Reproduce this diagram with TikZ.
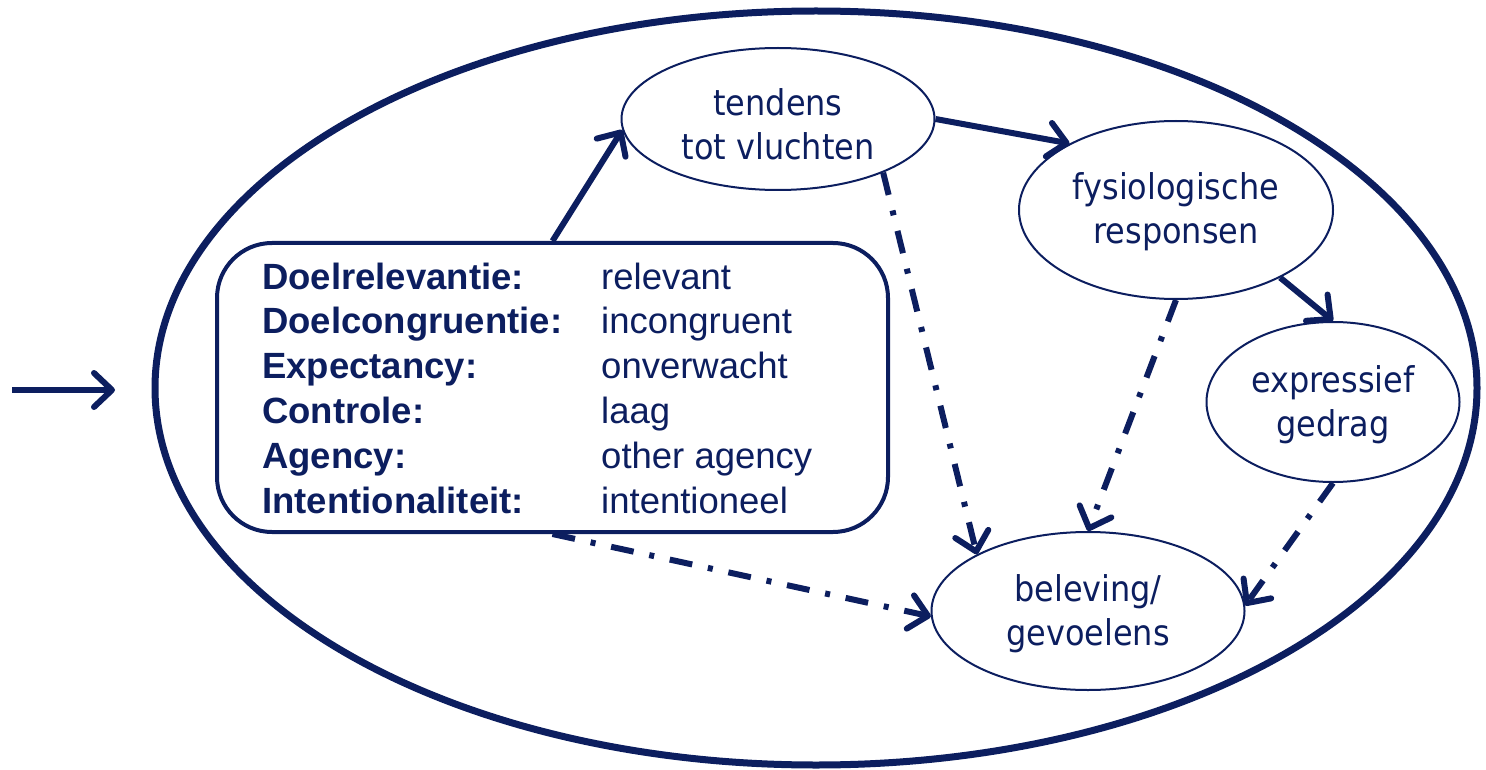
\documentclass[tikz,border=0pt]{standalone}
\usepackage{fontspec}
\setmainfont{Liberation Sans}
\newfontfamily\ellfont{DejaVu Sans Condensed}
\usetikzlibrary{shapes.geometric,arrows.meta}
\definecolor{navy}{RGB}{12,30,95}
\begin{document}
\begin{tikzpicture}[x=1pt,y=-1pt,
  ell/.style={draw=navy,line width=2pt,ellipse,inner sep=0pt},
  etext/.style={align=center,text=navy,inner sep=0pt,
    font=\ellfont\fontsize{35.5}{44}\selectfont},
  arr/.style={draw=navy,line width=6pt,-{Straight Barb[length=18pt,width=34pt,round]}},
  dd/.style={arr,dash pattern=on 23pt off 16pt on 5pt off 16pt},
  lab/.style={anchor=base west,inner sep=0pt,text=navy,font=\fontsize{36.5}{40}\selectfont\bfseries},
  val/.style={anchor=base west,inner sep=0pt,text=navy,font=\fontsize{36.5}{40}\selectfont}]
\useasboundingbox (0,0) rectangle (1486,770);
\node[ellipse,draw=navy,line width=7pt,minimum width=1322pt,minimum height=754pt,inner sep=0pt] (outer) at (816,388) {};
\node[ell,minimum width=313pt,minimum height=142pt] (tendens) at (778,119) {};
\node[ell,minimum width=314pt,minimum height=178pt] (fysio) at (1176,210) {};
\node[ell,minimum width=253pt,minimum height=160pt] (expr) at (1333,402) {};
\node[ell,minimum width=313pt,minimum height=158pt] (bel) at (1088,611) {};
\node[etext] (tendensT) at ([yshift=-5pt]tendens.center) {tendens\\tot vluchten};
\node[etext] (fysioT) at ([yshift=-2pt]fysio.center) {fysiologische\\responsen};
\node[etext] (exprT) at ([yshift=-3pt]expr.center) {expressief\\gedrag};
\node[etext] (belT) at ([yshift=-3pt]bel.center) {beleving/\\gevoelens};
\node[draw=navy,line width=4pt,rounded corners=55pt,minimum width=671pt,minimum height=289pt,inner sep=0pt] (box) at (552.5,387.5) {};
\node[lab] (l1) at (262,289) {Doelrelevantie:};
\node[lab] (l2) at (262,333.8) {Doelcongruentie:};
\node[lab] (l3) at (262,378.6) {Expectancy:};
\node[lab] (l4) at (262,423.4) {Controle:};
\node[lab] (l5) at (262,468.2) {Agency:};
\node[lab] (l6) at (262,513) {Intentionaliteit:};
\node[val] (v1) at (601,289) {relevant};
\node[val] (v2) at (601,333.8) {incongruent};
\node[val] (v3) at (601,378.6) {onverwacht};
\node[val] (v4) at (601,423.4) {laag};
\node[val] (v5) at (601,468.2) {other agency};
\node[val] (v6) at (601,513) {intentioneel};
\coordinate (ins) at (12,390);
\coordinate (ine) at (115,390);
\draw[arr] (ins) -- (ine);
\draw[arr] (box.north) -- (tendens.184);
\draw[arr] (tendens.east) -- (fysio.148);
\draw[arr] (fysio.-33) -- (expr.north);
\draw[dd] (tendens.-27) -- (bel.153);
\draw[dd] (fysio.south) -- (bel.north);
\draw[dd] (expr.south) -- (bel.2);
\draw[dd] (box.south) -- (bel.182);
\end{tikzpicture}
\end{document}
